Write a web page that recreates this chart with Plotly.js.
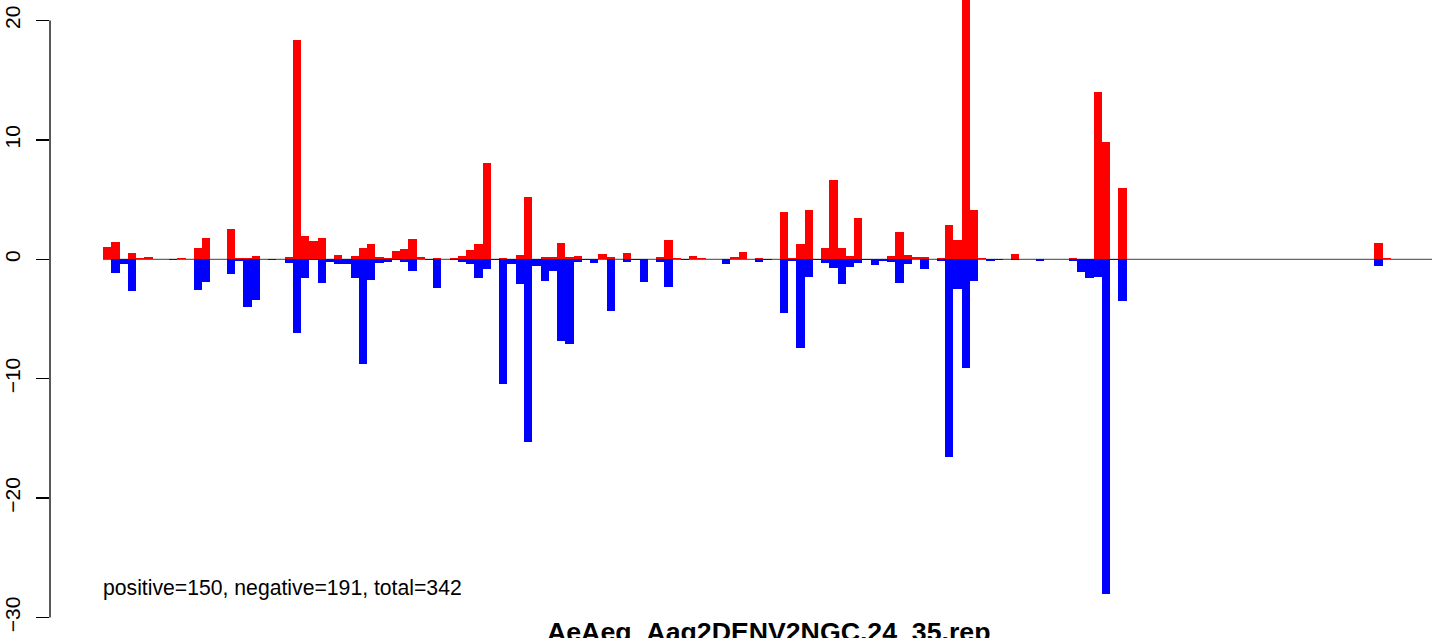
<!DOCTYPE html>
<html>
<head>
<meta charset="utf-8">
<script src="https://cdn.plot.ly/plotly-3.0.1.min.js"></script>
<style>
html,body{margin:0;padding:0;background:#fff;}
#chart{width:1444px;height:638px;}
</style>
</head>
<body>
<div id="chart"></div>
<script>
// positive (red) and negative (blue) values per bin
const positiveValues = [
 1.03,1.45,0,0.53,0.11,0.2,0,0,0,0.1,
 0,0.95,1.79,0,0,2.54,0.11,0.11,0.28,0,
 0,0.05,0.2,18.38,1.96,1.56,1.79,0,0.36,0,
 0.28,0.95,1.28,0.2,0.11,0.7,0.87,1.7,0.2,0,
 0.11,0.05,0.11,0.28,0.78,1.28,8.07,0,0.11,0,
 0.36,5.22,0,0.2,0.2,1.37,0.2,0.28,0,0,
 0.45,0.2,0.05,0.53,0,0,0.05,0.2,1.62,0.11,
 0,0.28,0.11,0,0.05,0,0.2,0.61,0,0.11,
 0,0,3.97,0.11,1.28,4.13,0,0.95,6.65,0.95,
 0.28,3.46,0,0,0,0.28,2.29,0.36,0.2,0.2,
 0,0.11,2.88,1.62,23,4.13,0.11,0,0,0.05,
 0.43,0,0,0,0,0,0,0.1,0,0,
 14.05,9.85,0,6.0,0,0,0,0,0,0,
 0,0,0,0,0,0,0,0,0,0,
 0,0,0,0,0,0,0,0,0,0,
 0,0,0,0,1.37,0.08
];
const negativeValues = [
 0,-1.12,-0.36,-2.63,0,0,0,0,-0.08,0,
 0,-2.57,-1.87,0,0,-1.2,-0.14,-3.97,-3.4,0,
 -0.08,0,-0.28,-6.15,-1.54,-0.05,-1.96,-0.2,-0.36,-0.36,
 -1.54,-8.74,-1.72,-0.28,-0.2,-0.1,-0.2,-0.95,0,-0.1,
 -2.37,0,-0.05,-0.2,-0.36,-1.54,-0.78,-0.08,-10.42,-0.36,
 -2.04,-15.28,-0.53,-1.79,-0.95,-6.82,-7.07,-0.2,-0.05,-0.28,
 0,-4.3,0,-0.2,-0.05,-1.9,0,-0.22,-2.32,0,
 -0.05,0,0,0,0,-0.39,0,0,0,-0.22,
 -0.05,0,-4.5,-0.11,-7.43,-1.48,-0.08,-0.31,-0.73,-2.07,
 -0.64,-0.31,-0.05,-0.47,-0.11,-0.22,-1.98,-0.39,0,-0.81,
 0,-0.11,-16.57,-2.49,-9.08,-1.82,0,-0.13,-0.05,0,
 -0.05,0,0,-0.15,0,0,0,-0.15,-1.07,-1.56,
 -1.47,-28.05,-0.08,-3.5,0,0,0,0,0,0,
 0,0,0,0,0,0,0,0,0,0,
 0,0,0,0,0,0,0,0,0,0,
 0,0,0,0,-0.53,0
];
const bins = positiveValues.map((_, i) => i);
const yTickValues = [-30, -20, -10, 0, 10, 20];
const yTickLabels = ["\u221230", "\u221220", "\u221210", "0", "10", "20"];
const titleText = "AeAeg_Aag2DENV2NGC.24_35.rep";
const statsText = "positive=150, negative=191, total=342";

const FONT = "Liberation Sans, Arial, Helvetica, sans-serif";

const traces = [
  {type: "bar", x: bins, y: positiveValues, width: 1,
   marker: {color: "#ff0000", line: {width: 0}}, hoverinfo: "skip"},
  {type: "bar", x: bins, y: negativeValues, width: 1,
   marker: {color: "#0000ff", line: {width: 0}}, hoverinfo: "skip"}
];

const layout = {
  width: 1444, height: 638,
  margin: {l: 50, r: 0, t: 0, b: 0, pad: 0},
  paper_bgcolor: "#ffffff", plot_bgcolor: "#ffffff",
  barmode: "overlay", bargap: 0,
  showlegend: false,
  xaxis: {range: [-6.92, 161.947], visible: false, showgrid: false, zeroline: false},
  yaxis: {
    range: [-31.717, 21.717],
    tickmode: "array", tickvals: yTickValues, ticktext: yTickLabels,
    ticks: "outside", ticklen: 13, tickwidth: 1.3, tickcolor: "#000",
    tickangle: -90, ticklabelstandoff: 8,
    tickfont: {family: FONT, size: 21, color: "#000"},
    showgrid: false, zeroline: false, showline: false
  },
  shapes: [
    {type: "line", xref: "paper", yref: "y", x0: 0, x1: 0, y0: -30, y1: 20,
     line: {color: "#000", width: 1.3}},
    {type: "line", xref: "x", yref: "y", x0: -0.5, x1: 160.49, y0: 0, y1: 0,
     layer: "below", line: {color: "#666666", width: 1.3}}
  ],
  annotations: [
    {text: statsText, xref: "x", yref: "y", x: -0.7, y: -27.53,
     xanchor: "left", yanchor: "middle", showarrow: false,
     font: {family: FONT, size: 21.2, color: "#000"}},
    {text: "<b>" + titleText + "</b>", xref: "x", yref: "y", x: 80.2, y: -29.8,
     xanchor: "center", yanchor: "top", showarrow: false,
     font: {family: FONT, size: 26.7, color: "#000"}}
  ]
};

Plotly.newPlot("chart", traces, layout, {staticPlot: true, displayModeBar: false});
</script>
</body>
</html>
